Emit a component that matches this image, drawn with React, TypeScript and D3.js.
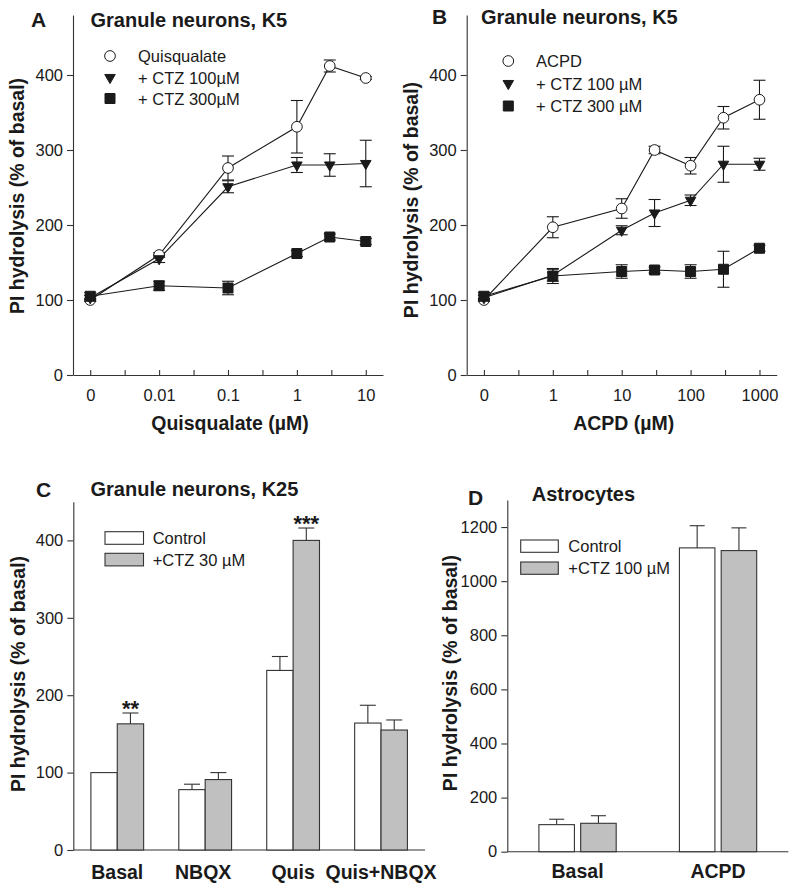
import React, { useEffect, useRef } from 'react';
import * as d3 from 'd3';

// ---------- Panel A data ----------
const aConc = [0, 0.01, 0.1, 1, 3, 10];
const aQuis = [100, 160, 276, 331, 412, 396];
const aQuisErr = [2, 3, 16, 35, 8, 2];
const aCtz100 = [103, 155, 251, 280, 280, 282];
const aCtz100Err = [3, 5, 8, 10, 15, 31];
const aCtz300 = [105, 119, 116, 162, 184, 178];
const aCtz300Err = [5, 6, 9, 4, 4, 4];
const aTickLabels = ['0', '0.01', '0.1', '1', '10'];

// ---------- Panel B data ----------
const bConc = [0, 1, 10, 30, 100, 300, 1000];
const bAcpd = [100, 197, 222, 300, 279, 343, 367];
const bAcpdErr = [2, 14, 13, 5, 11, 15, 26];
const bCtz100 = [103, 133, 193, 216, 233, 281, 281];
const bCtz100Err = [3, 8, 6, 18, 7, 24, 8];
const bCtz300 = [105, 132, 138, 140, 138, 141, 169];
const bCtz300Err = [5, 10, 9, 4, 9, 24, 4];
const bTickLabels = ['0', '1', '10', '100', '1000'];

// ---------- Panel C data ----------
const cCats = ['Basal', 'NBQX', 'Quis', 'Quis+NBQX'];
const cControl = [100, 78, 232, 164];
const cControlErr = [0, 7, 18, 23];
const cCtz = [163, 91, 400, 155];
const cCtzErr = [14, 9, 16, 13];
const cStars = ['**', '', '***', ''];

// ---------- Panel D data ----------
const dCats = ['Basal', 'ACPD'];
const dControl = [100, 1123];
const dControlErr = [20, 82];
const dCtz = [105, 1113];
const dCtzErr = [28, 84];

const FONT = '"Liberation Sans", Arial, Helvetica, sans-serif';
const INK = '#1a1a1a';
const AXIS = '#333';
const GRAY = '#c0c0c0';

type Sel = d3.Selection<SVGSVGElement, unknown, null, undefined>;

function styleAxis(g: any, fs = 16.5) {
  g.attr('font-family', FONT).attr('font-size', fs);
  g.selectAll('path.domain').attr('stroke', AXIS).attr('stroke-width', 1.1);
  g.selectAll('.tick line').attr('stroke', AXIS).attr('stroke-width', 1.1);
  g.selectAll('.tick text').attr('fill', INK);
}

function addText(svg: Sel, x: number, y: number, txt: string, opts: any = {}) {
  const t = svg.append('text')
    .attr('x', x).attr('y', y)
    .attr('font-family', FONT)
    .attr('font-size', opts.size ?? 16.5)
    .attr('font-weight', opts.bold ? 'bold' : 'normal')
    .attr('fill', INK)
    .attr('text-anchor', opts.anchor ?? 'start')
    .text(txt);
  if (opts.rotate) t.attr('transform', `rotate(-90,${x},${y})`);
  return t;
}

function symbolPath(kind: string) {
  if (kind === 'circle') return d3.symbol(d3.symbolCircle, 90)();
  if (kind === 'square') return d3.symbol(d3.symbolSquare, 100)();
  return d3.symbol(d3.symbolTriangle, 48)();
}

function drawMarker(g: any, kind: string, cx: number, cy: number) {
  const p = g.append('path').attr('d', symbolPath(kind)).attr('stroke', INK).attr('stroke-width', 1);
  if (kind === 'circle') p.attr('fill', '#fff').attr('transform', `translate(${cx},${cy})`);
  else if (kind === 'square') p.attr('fill', INK).attr('transform', `translate(${cx},${cy})`);
  else p.attr('fill', INK).attr('transform', `translate(${cx},${cy}) rotate(180)`);
}

interface LineCfg {
  letter: string; letterX: number; letterY: number;
  title: string; titleX: number; titleY: number;
  xRange: [number, number]; yRange: [number, number];
  logDomain: [number, number]; zeroVal: number;
  major: number[]; minor: number[]; labels: string[];
  conc: number[];
  series: { kind: string; vals: number[]; errs: number[]; label: string }[];
  legX: number; legTextX: number; legY: number[];
  xLabel: string; xLabelY: number;
  yLabelX: number; yLabelY: number;
}

function drawLinePanel(svg: Sel, c: LineCfg) {
  const x = d3.scaleLog().domain(c.logDomain).range(c.xRange);
  const y = d3.scaleLinear().domain([0, 480]).range(c.yRange);
  const px = (v: number) => x(v === 0 ? c.zeroVal : v);

  const gy = svg.append('g').attr('transform', `translate(${c.xRange[0]},0)`)
    .call(d3.axisLeft(y).tickValues([0, 100, 200, 300, 400]).tickSize(6).tickPadding(4).tickSizeOuter(0).tickFormat(d3.format('d')));
  styleAxis(gy);
  const allTicks = [...c.major, ...c.minor];
  const gx = svg.append('g').attr('transform', `translate(0,${c.yRange[0]})`)
    .call(d3.axisBottom(x).tickValues(allTicks).tickSize(-5).tickSizeOuter(0).tickPadding(14)
      .tickFormat(((d: any, i: number) => (i < c.major.length ? c.labels[i] : '')) as any));
  styleAxis(gx);

  const line = d3.line<number>().x((_, i) => px(c.conc[i])).y((v) => y(v));
  const cap = 6;
  c.series.forEach((s) => {
    svg.append('path').attr('d', line(s.vals)).attr('fill', 'none').attr('stroke', INK).attr('stroke-width', 1.1);
  });
  c.series.forEach((s) => {
    const g = svg.append('g').attr('stroke', INK).attr('stroke-width', 1.1);
    s.vals.forEach((v, i) => {
      const cx = px(c.conc[i]);
      const e = s.errs[i];
      g.append('line').attr('x1', cx).attr('x2', cx).attr('y1', y(v - e)).attr('y2', y(v + e));
      g.append('line').attr('x1', cx - cap).attr('x2', cx + cap).attr('y1', y(v + e)).attr('y2', y(v + e));
      g.append('line').attr('x1', cx - cap).attr('x2', cx + cap).attr('y1', y(v - e)).attr('y2', y(v - e));
    });
  });
  c.series.forEach((s) => {
    const g = svg.append('g');
    s.vals.forEach((v, i) => drawMarker(g, s.kind, px(c.conc[i]), y(v)));
  });

  // legend
  const lg = svg.append('g');
  c.series.forEach((s, i) => {
    drawMarker(lg, s.kind, c.legX, c.legY[i]);
    addText(svg, c.legTextX, c.legY[i] + 6, s.label);
  });

  addText(svg, c.letterX, c.letterY, c.letter, { bold: true, size: 21 });
  addText(svg, c.titleX, c.titleY, c.title, { bold: true, size: 20 });
  addText(svg, (c.xRange[0] + c.xRange[1]) / 2 + 2, c.xLabelY, c.xLabel, { bold: true, size: 19.5, anchor: 'middle' });
  addText(svg, c.yLabelX, c.yLabelY, 'PI hydrolysis (% of basal)', { bold: true, size: 19.5, anchor: 'middle', rotate: true });
}

interface BarCfg {
  letter: string; letterX: number; letterY: number;
  title: string; titleX: number; titleY: number;
  xRange: [number, number]; yRange: [number, number]; yMax: number; yTicks: number[];
  cats: string[]; ctrl: number[]; ctrlErr: number[]; ctz: number[]; ctzErr: number[];
  stars?: string[];
  padInner: number; padOuter: number; innerPad: number;
  legRectX: number; legRectW: number; legRectH: number; legRectY: number[]; legTextX: number;
  legLabels: string[];
  catLabelY: number; catLabelDx?: number[];
  yLabelX: number; yLabelY: number; cap: number;
}

function drawBarPanel(svg: Sel, c: BarCfg) {
  const y = d3.scaleLinear().domain([0, c.yMax]).range(c.yRange);
  const x0 = d3.scaleBand().domain(c.cats).range(c.xRange).paddingInner(c.padInner).paddingOuter(c.padOuter);
  const x1 = d3.scaleBand().domain(['ctrl', 'ctz']).range([0, x0.bandwidth()]).paddingInner(c.innerPad);

  const gy = svg.append('g').attr('transform', `translate(${c.xRange[0]},0)`)
    .call(d3.axisLeft(y).tickValues(c.yTicks).tickSize(6).tickPadding(4).tickSizeOuter(0).tickFormat(d3.format('d')));
  styleAxis(gy);
  svg.append('line').attr('x1', c.xRange[0]).attr('x2', c.xRange[1])
    .attr('y1', c.yRange[0]).attr('y2', c.yRange[0]).attr('stroke', AXIS).attr('stroke-width', 1.1);

  const groups = [
    { key: 'ctrl', vals: c.ctrl, errs: c.ctrlErr, fill: '#fff' },
    { key: 'ctz', vals: c.ctz, errs: c.ctzErr, fill: GRAY },
  ];
  groups.forEach((gp) => {
    c.cats.forEach((cat, i) => {
      const bx = (x0(cat) as number) + (x1(gp.key) as number);
      const w = x1.bandwidth();
      svg.append('rect').attr('x', bx).attr('width', w)
        .attr('y', y(gp.vals[i])).attr('height', y(0) - y(gp.vals[i]))
        .attr('fill', gp.fill).attr('stroke', AXIS).attr('stroke-width', 1.1);
      const e = gp.errs[i];
      if (e > 0) {
        const cx = bx + w / 2;
        svg.append('line').attr('x1', cx).attr('x2', cx).attr('y1', y(gp.vals[i])).attr('y2', y(gp.vals[i] + e))
          .attr('stroke', AXIS).attr('stroke-width', 1.1);
        svg.append('line').attr('x1', cx - c.cap / 2).attr('x2', cx + c.cap / 2)
          .attr('y1', y(gp.vals[i] + e)).attr('y2', y(gp.vals[i] + e)).attr('stroke', AXIS).attr('stroke-width', 1.1);
      }
      if (gp.key === 'ctz' && c.stars && c.stars[i]) {
        addText(svg, bx + w / 2, y(gp.vals[i] + e) + 3, c.stars[i], { bold: true, size: 22, anchor: 'middle' });
      }
    });
  });

  c.cats.forEach((cat, i) => {
    addText(svg, (x0(cat) as number) + x0.bandwidth() / 2 + (c.catLabelDx ? c.catLabelDx[i] : 0), c.catLabelY, cat,
      { bold: true, size: 19.5, anchor: 'middle' });
  });

  // legend
  [ '#fff', GRAY ].forEach((f, i) => {
    svg.append('rect').attr('x', c.legRectX).attr('y', c.legRectY[i]).attr('width', c.legRectW).attr('height', c.legRectH)
      .attr('fill', f).attr('stroke', AXIS).attr('stroke-width', 1.1);
    addText(svg, c.legTextX, c.legRectY[i] + c.legRectH / 2 + 6, c.legLabels[i]);
  });

  addText(svg, c.letterX, c.letterY, c.letter, { bold: true, size: 21 });
  addText(svg, c.titleX, c.titleY, c.title, { bold: true, size: 20 });
  addText(svg, c.yLabelX, c.yLabelY, 'PI hydrolysis (% of basal)', { bold: true, size: 19.5, anchor: 'middle', rotate: true });
}

export default function App() {
  const ref = useRef<SVGSVGElement>(null);
  useEffect(() => {
    if (!ref.current) return;
    const svg = d3.select(ref.current) as Sel;
    svg.selectAll('*').remove();
    svg.append('rect').attr('width', 800).attr('height', 893).attr('fill', '#fff');

    drawLinePanel(svg, {
      letter: 'A', letterX: 31, letterY: 27,
      title: 'Granule neurons, K5', titleX: 90.5, titleY: 27,
      xRange: [73, 383], yRange: [375, 15],
      logDomain: [Math.pow(10, -3.25), Math.pow(10, 1.25)], zeroVal: 0.001,
      major: [0.001, 0.01, 0.1, 1, 10],
      minor: [Math.pow(10, -2.5), Math.pow(10, -1.5), Math.pow(10, -0.5), Math.pow(10, 0.5)],
      labels: aTickLabels,
      conc: aConc,
      series: [
        { kind: 'circle', vals: aQuis, errs: aQuisErr, label: 'Quisqualate' },
        { kind: 'triangle', vals: aCtz100, errs: aCtz100Err, label: '+ CTZ 100µM' },
        { kind: 'square', vals: aCtz300, errs: aCtz300Err, label: '+ CTZ 300µM' },
      ],
      legX: 110, legTextX: 138, legY: [56, 77.5, 98.5],
      xLabel: 'Quisqualate (µM)', xLabelY: 430,
      yLabelX: 24, yLabelY: 196,
    });

    drawLinePanel(svg, {
      letter: 'B', letterX: 432, letterY: 23.5,
      title: 'Granule neurons, K5', titleX: 481, titleY: 23.5,
      xRange: [466.7, 776.7], yRange: [375, 15],
      logDomain: [Math.pow(10, -1.25), Math.pow(10, 3.25)], zeroVal: 0.1,
      major: [0.1, 1, 10, 100, 1000],
      minor: [Math.pow(10, -0.5), Math.pow(10, 0.5), Math.pow(10, 1.5), Math.pow(10, 2.5)],
      labels: bTickLabels,
      conc: bConc,
      series: [
        { kind: 'circle', vals: bAcpd, errs: bAcpdErr, label: 'ACPD' },
        { kind: 'triangle', vals: bCtz100, errs: bCtz100Err, label: '+ CTZ 100 µM' },
        { kind: 'square', vals: bCtz300, errs: bCtz300Err, label: '+ CTZ 300 µM' },
      ],
      legX: 508.3, legTextX: 536, legY: [61, 83.5, 106],
      xLabel: 'ACPD (µM)', xLabelY: 430,
      yLabelX: 418, yLabelY: 200,
    });

    drawBarPanel(svg, {
      letter: 'C', letterX: 36, letterY: 496.5,
      title: 'Granule neurons, K25', titleX: 90.5, titleY: 496,
      xRange: [73.3, 425], yRange: [850, 501.7], yMax: 450, yTicks: [0, 100, 200, 300, 400],
      cats: cCats, ctrl: cControl, ctrlErr: cControlErr, ctz: cCtz, ctzErr: cCtzErr, stars: cStars,
      padInner: 0.4, padOuter: 0.2, innerPad: 0,
      legRectX: 105, legRectW: 38.5, legRectH: 12.6, legRectY: [531.7, 553.3], legTextX: 152.7,
      legLabels: ['Control', '+CTZ 30 µM'],
      catLabelY: 879, catLabelDx: [0, -2, 0, 0],
      yLabelX: 25, yLabelY: 674, cap: 16,
    });

    drawBarPanel(svg, {
      letter: 'D', letterX: 468, letterY: 505,
      title: 'Astrocytes', titleX: 531.7, titleY: 500.5,
      xRange: [507.3, 788.3], yRange: [851.7, 500], yMax: 1300, yTicks: [0, 200, 400, 600, 800, 1000, 1200],
      cats: dCats, ctrl: dControl, ctrlErr: dControlErr, ctz: dCtz, ctzErr: dCtzErr,
      padInner: 0.45, padOuter: 0.225, innerPad: 0.15,
      legRectX: 520.7, legRectW: 37.6, legRectH: 12.3, legRectY: [540, 562], legTextX: 568.3,
      legLabels: ['Control', '+CTZ 100 µM'],
      catLabelY: 877.5,
      yLabelX: 456.5, yLabelY: 673, cap: 15,
    });
  }, []);
  return (
    <svg ref={ref} width={800} height={893}
      style={{ position: 'absolute', left: 0, top: 0, display: 'block', fontFamily: FONT }} />
  );
}
